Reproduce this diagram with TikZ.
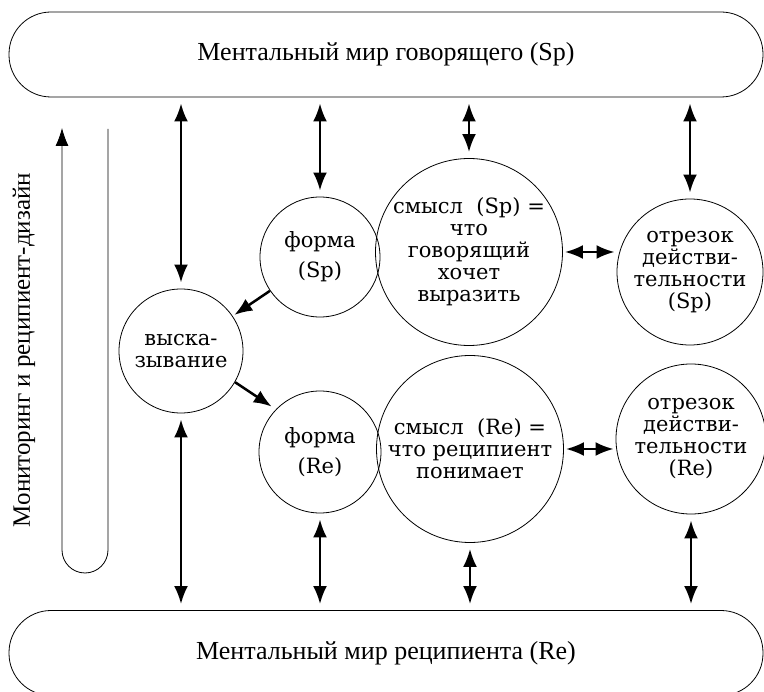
\documentclass[tikz,border=0pt]{standalone}
\usepackage{fontspec}
\setmainfont{Liberation Serif}
\newfontfamily\bubblefont{DejaVu Serif}
\usetikzlibrary{arrows.meta, positioning}

\tikzset{
  world/.style={draw, line width=0.8pt, rounded corners=42pt,
    minimum width=754pt, minimum height=85pt, inner sep=0pt,
    font=\fontsize{26}{29}\selectfont},
  bubble/.style={draw, circle, line width=0.8pt, inner sep=0pt, align=center,
    font=\bubblefont\fontsize{21}{22}\selectfont},
  dbl/.style={{Latex[length=18pt,width=14pt]}-{Latex[length=18pt,width=14pt]},
    line width=2.5pt, shorten <=6pt, shorten >=6pt},
  arr/.style={-{Latex[length=18pt,width=14pt]}, line width=2.5pt}
}

\begin{document}
\begin{tikzpicture}[x=1pt, y=-1pt]
	\useasboundingbox (0,0) rectangle (764,692);
	% mental worlds
	\node[world] (speaker) at (386,54.5) {Ментальный мир говорящего (Sp)};
	\node[world] (recip) at (386,653) {Ментальный мир реципиента (Re)};
	
	% circles
	\node[bubble, minimum size=124pt] (vysk) at (181,351) {выска-\\зывание};
	\node[bubble, minimum size=120pt] (formSp) at (320,257) {форма\\[8pt](Sp)};
	\node[bubble, minimum size=187pt] (senseSp) at (469,252) {смысл\ \ (Sp) =\\что\\говорящий\\хочет\\выразить};
	\node[bubble, minimum size=146pt] (realSp) at (690,272) {отрезок\\действи-\\тельности\\(Sp)};
	\node[bubble, minimum size=122pt] (formRe) at (320,452) {форма\\[8pt](Re)};
	\node[bubble, minimum size=187pt] (senseRe) at (470,449) {смысл\ \ (Re) =\\что реципиент\\понимает};
	\node[bubble, minimum size=150pt] (realRe) at (691,439) {отрезок\\действи-\\тельности\\(Re)};
	
	% monitoring loop
	\node[rotate=90, font=\fontsize{25}{28}\selectfont] (monitor) at (24,350) {Мониторинг и реципиент-дизайн};
	\draw[line width=0.8pt, -{Latex[length=18pt,width=13pt]}] (108,129) -- (108,550)
		arc[start angle=0, end angle=-180, radius=23pt] -- (62,128);
	
	% links to the worlds
	\foreach \c in {vysk, formSp, senseSp, realSp}
		\draw[dbl] (\c.north |- speaker.south) -- (\c);
	\foreach \c in {vysk, formRe, senseRe, realRe}
		\draw[dbl] (\c) -- (\c.south |- recip.north);
	
	% sense and reality
	\draw[dbl, shorten <=2pt, shorten >=2pt] (senseSp.east) -- (senseSp.east -| realSp.west);
	\draw[dbl, shorten <=2pt, shorten >=2pt] (senseRe.east) -- (senseRe.east -| realRe.west);
	
	% form and utterance
	\draw[arr, shorten >=2pt] (formSp) -- (vysk);
	\draw[arr, shorten >=5pt] (vysk.-30) -- (formRe.136);
\end{tikzpicture}
\end{document}
